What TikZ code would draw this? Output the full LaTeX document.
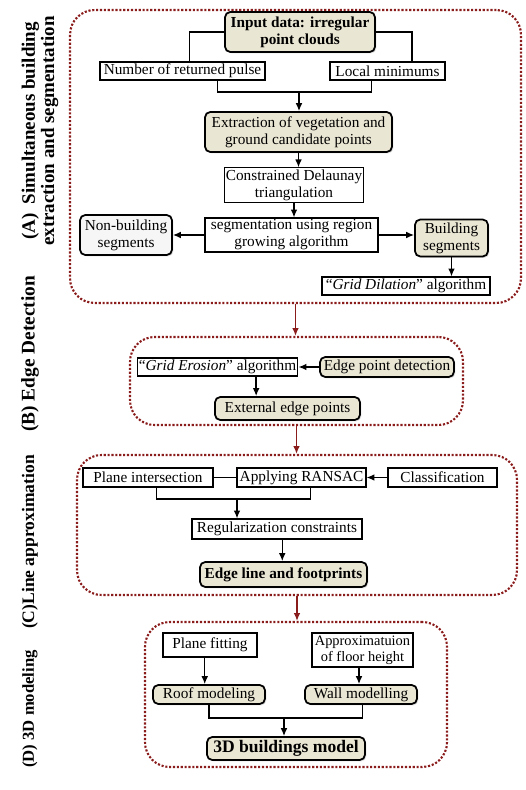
\documentclass[tikz,border=0pt]{standalone}
\usepackage{fontspec}
\setmainfont{Liberation Serif}
\usetikzlibrary{arrows.meta,shadows}

\definecolor{boxbeige}{RGB}{234,230,212}
\definecolor{framered}{RGB}{138,28,28}

\tikzset{
  plainbox/.style={draw, fill=white, line width=0.6pt, inner sep=1pt, align=center,
    font=\fontsize{8.7}{9.6}\selectfont},
  keybox/.style={plainbox, rounded corners=3pt, line width=1pt, fill=boxbeige,
    drop shadow={opacity=0.25, shadow xshift=0.8pt, shadow yshift=-0.8pt}},
  stageframe/.style={draw=framered, densely dotted, line width=1.2pt, rounded corners=14pt,
    inner sep=0pt},
  flow/.style={-{Latex[length=4.5pt,width=3.8pt]}, line width=0.8pt},
  link/.style={line width=0.8pt},
  stageflow/.style={-{Latex[length=4.5pt,width=3.8pt]}, draw=framered, line width=0.8pt},
  sidelabel/.style={rotate=90, align=center, font=\bfseries\fontsize{10}{11}\selectfont}
}

\begin{document}
\begin{tikzpicture}[x=0.02cm,y=-0.02cm]
\useasboundingbox (0,0) rectangle (525,790);

% stage frames
\node[stageframe, minimum width=9.02cm, minimum height=5.86cm] (frameA) at (295.5,156.5) {};
\node[stageframe, minimum width=6.66cm, minimum height=1.76cm] (frameB) at (296.5,381) {};
\node[stageframe, minimum width=8.8cm, minimum height=2.8cm] (frameC) at (297,525) {};
\node[stageframe, minimum width=6.04cm, minimum height=2.9cm] (frameD) at (296,694.5) {};

% side labels
\node[sidelabel, font=\bfseries\fontsize{10.8}{9.6}\selectfont] (labA) at (40,131) {(A)\ \ Simultaneous building\\extraction and segmentation};
\node[sidelabel, font=\bfseries\fontsize{11}{12}\selectfont] (labB) at (30,354) {(B) Edge Detection};
\node[sidelabel] (labC) at (30,542) {(C)Line approximation};
\node[sidelabel, font=\bfseries\fontsize{9.5}{11}\selectfont] (labD) at (30,709) {(D) 3D modeling};

% (A)
\node[keybox, font=\bfseries\fontsize{8.7}{9.6}\selectfont, minimum width=3cm, minimum height=0.8cm] (input) at (300,32) {Input data: irregular\\point clouds};
\node[plainbox, minimum width=3.3cm, minimum height=0.36cm] (npulse) at (182.5,71) {Number of returned pulse};
\node[plainbox, minimum width=2.3cm, minimum height=0.36cm] (locmin) at (387.5,71) {Local minimums};
\node[keybox, minimum width=3.74cm, minimum height=0.8cm] (extract) at (298.5,132) {Extraction of vegetation and\\ground candidate points};
\node[plainbox, minimum width=2.76cm, minimum height=0.68cm] (cdt) at (294,185) {Constrained Delaunay\\triangulation};
\node[plainbox, minimum width=3.46cm, minimum height=0.68cm] (seg) at (291.5,235) {segmentation using region\\growing algorithm};
\node[keybox, fill=gray!7, minimum width=1.84cm, minimum height=0.8cm] (nonbld) at (126,235) {Non-building\\segments};
\node[keybox, minimum width=1.46cm, minimum height=0.74cm] (bldseg) at (451.5,238) {Building\\segments};
\node[plainbox, minimum width=3.36cm, minimum height=0.36cm] (dilation) at (406,286) {``\textit{Grid Dilation}'' algorithm};

\coordinate (joinA) at (299,92);
\draw[link] (input.west) -| ([xshift=4pt]npulse.north);
\draw[link] (input.east) -| ([xshift=14pt]locmin.north);
\draw[link] ([xshift=20pt]npulse.south) |- (joinA) -| ([xshift=-9pt]locmin.south);
\draw[flow] (joinA) -- (joinA |- extract.north);
\draw[flow] (extract.south) -- (extract.south |- cdt.north);
\draw[flow] (cdt.south) -- (cdt.south |- seg.north);
\draw[flow] (seg.west) -- (nonbld.east);
\draw[flow] (seg.east) -- (seg.east -| bldseg.west);
\draw[flow] (bldseg.south) -- (bldseg.south |- dilation.north);

% (B)
\node[plainbox, minimum width=3.18cm, minimum height=0.36cm] (erosion) at (217.5,367) {``\textit{Grid Erosion}'' algorithm};
\node[keybox, minimum width=2.68cm, minimum height=0.4cm] (edgept) at (387,367) {Edge point detection};
\node[keybox, minimum width=2.9cm, minimum height=0.46cm] (extpts) at (287.5,408.5) {External edge points};

\draw[flow] (edgept.west) -- (erosion.east);
\draw[flow] ([xshift=22pt]erosion.south) -- ([xshift=22pt]erosion.south |- extpts.north);

% (C)
\node[plainbox, minimum width=2.6cm, minimum height=0.38cm] (planeint) at (148,477.5) {Plane intersection};
\node[plainbox, minimum width=2.58cm, minimum height=0.38cm] (ransac) at (301.5,477.5) {Applying RANSAC};
\node[plainbox, minimum width=2.18cm, minimum height=0.38cm] (classif) at (442.5,477.5) {Classification};
\node[plainbox, minimum width=3.4cm, minimum height=0.4cm] (regul) at (277,529) {Regularization constraints};
\node[keybox, font=\bfseries\fontsize{8.7}{9.6}\selectfont, minimum width=3.34cm, minimum height=0.5cm] (edgeline) at (283.5,574.5) {Edge line and footprints};

\coordinate (joinC) at (237,499);
\draw[link] (planeint.east) -- (ransac.west);
\draw[flow] (classif.west) -- (ransac.east);
\draw[link] ([xshift=5pt]planeint.south) |- (joinC) -| ([xshift=5pt]ransac.south);
\draw[flow] (joinC) -- (joinC |- regul.north);
\draw[flow] ([xshift=3pt]regul.south) -- ([xshift=3pt]regul.south |- edgeline.north);

% (D)
\node[plainbox, minimum width=1.88cm, minimum height=0.48cm] (planefit) at (210,645) {Plane fitting};
\node[plainbox, font=\fontsize{8.2}{9.2}\selectfont, minimum width=2.02cm, minimum height=0.68cm] (approx) at (362.5,650) {Approximatuion\\of floor height};
\node[keybox, minimum width=2.24cm, minimum height=0.38cm] (roof) at (209,694.5) {Roof modeling};
\node[keybox, minimum width=2.24cm, minimum height=0.38cm] (wall) at (361,694.5) {Wall modelling};
\node[keybox, font=\bfseries\fontsize{10}{11}\selectfont, minimum width=3.16cm, minimum height=0.46cm] (model3d) at (286,748.5) {3D buildings model};

\coordinate (joinD) at (284,718);
\draw[flow] ([xshift=-3pt]planefit.south) -- ([xshift=-3pt]planefit.south |- roof.north);
\draw[flow] ([xshift=-2pt]approx.south) -- ([xshift=-2pt]approx.south |- wall.north);
\draw[link] (roof.south) |- (joinD) -| ([xshift=1pt]wall.south);
\draw[flow] (joinD) -- (joinD |- model3d.north);

% stage to stage
\draw[stageflow] (frameA.south) -- (frameA.south |- frameB.north);
\draw[stageflow] (frameB.south) -- (frameB.south |- frameC.north);
\draw[stageflow] (frameC.south) -- (frameC.south |- frameD.north);
\end{tikzpicture}
\end{document}
